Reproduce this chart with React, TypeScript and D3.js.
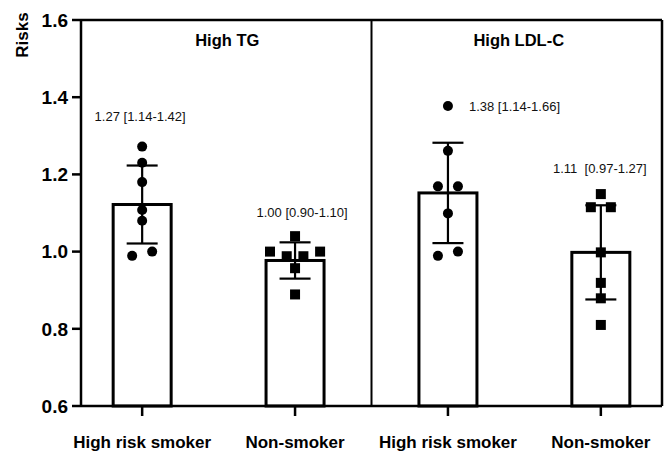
import * as d3 from 'd3';
import React from 'react';

// panels and categories
const panels = ['High TG', 'High LDL-C'];
const categories = ['High risk smoker', 'Non-smoker', 'High risk smoker', 'Non-smoker'];

// bar heights (mean) and error (SD)
const barMeans = [1.122, 0.977, 1.152, 0.998];
const barSD = [0.101, 0.047, 0.13, 0.122];

// individual risk points per bar
const tgSmoker = [1.272, 1.23, 1.18, 1.108, 1.08, 0.989, 1.0];
const tgNonSmoker = [1.04, 1.0, 0.988, 0.988, 1.0, 0.957, 0.889];
const ldlSmoker = [1.377, 1.261, 1.169, 1.169, 1.099, 0.989, 1.0];
const ldlNonSmoker = [1.149, 1.115, 1.115, 0.998, 0.919, 0.879, 0.81];
const points = [tgSmoker, tgNonSmoker, ldlSmoker, ldlNonSmoker];

// OR [95% CI] annotations
const ciLabels = ['1.27 [1.14-1.42]', '1.00 [0.90-1.10]', '1.38 [1.14-1.66]', '1.11  [0.97-1.27]'];

const yTicks = [0.6, 0.8, 1.0, 1.2, 1.4, 1.6];

const W = 669, H = 451;
const margin = { top: 20, right: 7, bottom: 45, left: 81 };
const font = 'Liberation Sans, Arial, sans-serif';

// spread overlapping points sideways, like a GraphPad scatter
function spread(vals: number[], y: (v: number) => number, minGap: number, dx: number) {
  const order = d3.range(vals.length).sort((a, b) => vals[b] - vals[a]);
  const offs = new Array(vals.length).fill(0);
  let group: number[] = [];
  const flush = () => {
    const g = [...group].sort((a, b) => a - b);
    g.forEach((idx, k) => { offs[idx] = (k - (g.length - 1) / 2) * dx; });
    group = [];
  };
  order.forEach((idx, k) => {
    if (k > 0 && Math.abs(y(vals[idx]) - y(vals[order[k - 1]])) >= minGap) flush();
    group.push(idx);
  });
  flush();
  return offs;
}

const App = () => {
  const x0 = margin.left, x1 = W - margin.right;
  const y0 = H - margin.bottom, y1 = margin.top;

  const x = d3.scalePoint<number>()
    .domain(d3.range(categories.length))
    .range([x0, x1])
    .padding(0.4);

  const y = d3.scaleLinear().domain([0.6, 1.6]).range([y0, y1]);

  const barW = 58;
  const capW = 31;
  const divider = ((x(1) as number) + (x(2) as number)) / 2;
  const panelCenters = [(x0 + divider) / 2 + 1, (divider + x1) / 2 + 2];

  // label layout: dx from category, dy above highest point (or inline)
  const labelLayout = [
    { dx: -2, dy: -30, anchor: 'middle' },
    { dx: 7, dy: -24, anchor: 'middle' },
    { dx: 21, dy: 0, anchor: 'start' },
    { dx: -1, dy: -26, anchor: 'middle' },
  ];

  return (
    <svg width={W} height={H} style={{ position: 'absolute', left: 0, top: 0, background: '#fff' }} fontFamily={font}>
      {/* bars */}
      {barMeans.map((m, i) => {
        const cx = x(i) as number;
        return (
          <rect key={'b' + i} x={cx - barW / 2} y={y(m)} width={barW} height={y0 - y(m)}
            fill="#fff" stroke="#000" strokeWidth={3} />
        );
      })}

      {/* error bars */}
      {barMeans.map((m, i) => {
        const cx = x(i) as number;
        const hi = y(m + barSD[i]), lo = y(m - barSD[i]);
        return (
          <g key={'e' + i} stroke="#000" strokeWidth={2.2}>
            <line x1={cx} x2={cx} y1={hi} y2={lo} />
            <line x1={cx - capW / 2} x2={cx + capW / 2} y1={hi} y2={hi} />
            <line x1={cx - capW / 2} x2={cx + capW / 2} y1={lo} y2={lo} />
          </g>
        );
      })}

      {/* points */}
      {points.map((vals, i) => {
        const cx = x(i) as number;
        const offs = spread(vals, y, 10, vals.length > 3 && i === 1 ? 16.7 : 20);
        return (
          <g key={'p' + i} fill="#000">
            {vals.map((v, k) =>
              i % 2 === 0
                ? <circle key={k} cx={cx + offs[k]} cy={y(v)} r={5} />
                : <rect key={k} x={cx + offs[k] - 5} y={y(v) - 5} width={10} height={10} />
            )}
          </g>
        );
      })}

      {/* frame */}
      <g stroke="#000" fill="none">
        <line x1={x0} x2={x1} y1={y1} y2={y1} strokeWidth={2.5} />
        <line x1={x1} x2={x1} y1={y1} y2={y0} strokeWidth={2.5} />
        <line x1={divider} x2={divider} y1={y1} y2={y0} strokeWidth={2} />
        <line x1={x0} x2={x0} y1={y1} y2={y0} strokeWidth={2.5} />
        <line x1={x0} x2={x1} y1={y0} y2={y0} strokeWidth={2.5} />
      </g>

      {/* y axis */}
      {yTicks.map(t => (
        <g key={'yt' + t}>
          <line x1={x0 - 9} x2={x0} y1={y(t)} y2={y(t)} stroke="#000" strokeWidth={2.5} />
          <text x={x0 - 13} y={y(t)} dy="0.36em" textAnchor="end" fontSize={19} fontWeight="bold">
            {d3.format('.1f')(t)}
          </text>
        </g>
      ))}
      <text transform={`translate(28,${y1 + 15}) rotate(-90)`} textAnchor="middle" fontSize={17} fontWeight="bold">
        Risks
      </text>

      {/* x axis */}
      {categories.map((c, i) => {
        const cx = x(i) as number;
        return (
          <g key={'xt' + i}>
            <line x1={cx} x2={cx} y1={y0} y2={y0 + 10} stroke="#000" strokeWidth={2.5} />
            <text x={cx} y={y0 + 42} textAnchor="middle" fontSize={17} fontWeight="bold">{c}</text>
          </g>
        );
      })}

      {/* panel titles */}
      {panels.map((p, i) => (
        <text key={'t' + i} x={panelCenters[i]} y={y1 + 26} textAnchor="middle" fontSize={16.5} fontWeight="bold">{p}</text>
      ))}

      {/* CI annotations */}
      {ciLabels.map((l, i) => {
        const cx = x(i) as number;
        const lay = labelLayout[i];
        const top = y(d3.max(points[i]) as number);
        return (
          <text key={'l' + i} x={cx + lay.dx} y={top + lay.dy} dy="0.35em" textAnchor={lay.anchor}
            fontSize={13} fill="#111" style={{ whiteSpace: 'pre' }}>
            {l}
          </text>
        );
      })}
    </svg>
  );
};

export default App;
